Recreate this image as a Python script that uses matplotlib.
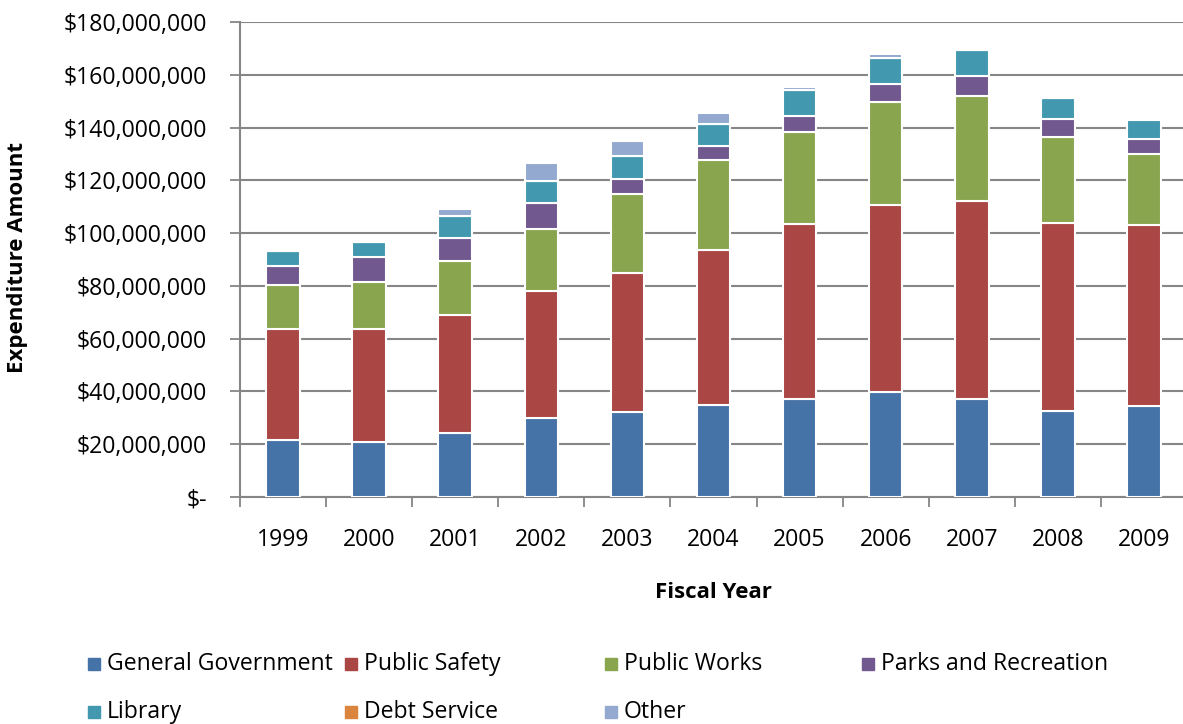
import matplotlib
matplotlib.use("Agg")
import matplotlib.pyplot as plt
import matplotlib.patheffects as pe
import numpy as np

years = ["1999", "2000", "2001", "2002", "2003", "2004", "2005", "2006", "2007", "2008", "2009"]
general_government = [21.6, 20.8, 24.3, 29.9, 32.3, 34.9, 37.1, 39.7, 37.0, 32.6, 34.6]
public_safety = [41.9, 43.0, 44.7, 48.0, 52.5, 58.6, 66.5, 70.8, 75.3, 71.2, 68.5]
public_works = [16.7, 17.8, 20.4, 23.8, 30.1, 34.1, 34.8, 39.3, 39.7, 32.7, 26.8]
parks_recreation = [7.5, 9.3, 8.9, 9.7, 5.7, 5.5, 6.0, 6.6, 7.5, 6.8, 5.8]
library = [5.4, 5.6, 8.2, 8.5, 8.7, 8.4, 9.8, 10.1, 9.9, 8.0, 7.2]
debt_service = [0, 0, 0, 0, 0, 0, 0, 0, 0, 0, 0.4]
other = [0, 0, 2.8, 6.7, 5.5, 3.9, 1.0, 1.5, 0, 0.5, 0]

series_names = ["General Government", "Public Safety", "Public Works", "Parks and Recreation",
                "Library", "Debt Service", "Other"]
series_values = [general_government, public_safety, public_works, parks_recreation,
                 library, debt_service, other]
colors = ["#4572A7", "#AA4643", "#89A54E", "#71588F", "#4198AF", "#DB843D", "#93A9CF"]

plt.rcParams['font.family'] = ['Open Sans', 'DejaVu Sans']
FS = 16.6
FSB = 16

fig = plt.figure(figsize=(11.83, 7.24), dpi=100)
W, H = 1183, 724
left, right, top, bottom = 240, 1187, 22, 497
ax = fig.add_axes([left / W, 1 - bottom / H, (right - left) / W, (bottom - top) / H])

x = np.arange(len(years))
base = np.zeros(len(years))
for name, vals, c in zip(series_names, series_values, colors):
    v = np.array(vals) * 1e6
    bars = ax.bar(x, v, bottom=base, width=0.39, color=c, edgecolor="white",
                  linewidth=1.5, zorder=3, label=name)
    for b in bars:
        b.set_path_effects([pe.SimplePatchShadow(offset=(0, 0), shadow_rgbFace='#bbbbbb', alpha=0.5),
                            pe.Normal()])
    base += v

ax.set_xlim(-0.5, len(years) - 0.5)
ax.set_ylim(0, 180e6)
yt = np.arange(0, 180e6 + 1, 20e6)
ax.set_yticks(yt)
ax.set_yticklabels(["$-"] + ["${:,.0f}".format(t) for t in yt[1:]], fontsize=FS)
ax.set_xticks(x)
ax.set_xticklabels(years, fontsize=FS)
ax.set_xticks(np.arange(-0.5, len(years), 1.0), minor=True)
ax.tick_params(axis='x', which='major', length=0, pad=22)
ax.tick_params(axis='x', which='minor', length=7, width=1.3, color='#868686')
ax.tick_params(axis='y', length=7, width=1.3, color='#868686', pad=17)
ax.yaxis.grid(True, color='#868686', linewidth=1.5, zorder=0)
ax.set_axisbelow(True)
for s in ['top', 'right']:
    ax.spines[s].set_visible(False)
for s in ['left', 'bottom']:
    ax.spines[s].set_color('#868686')
    ax.spines[s].set_linewidth(1.5)

fig.text(713 / W, 1 - 592 / H, "Fiscal Year", ha='center', va='center', fontsize=FSB, fontweight='bold')
fig.text(18 / W, 1 - 258 / H, "Expenditure Amount", ha='center', va='center', rotation=90,
         fontsize=FSB, fontweight='bold')

# legend (two rows, four columns)
leg_cols = [88, 345, 605, 862]
leg_rows = [664, 712]
for i, (name, c) in enumerate(zip(series_names, colors)):
    r, col = divmod(i, 4)
    lx, ly = leg_cols[col], leg_rows[r]
    fig.patches.append(plt.Rectangle(((lx) / W, 1 - (ly + 6) / H), 12 / W, 12 / H,
                                     transform=fig.transFigure, color=c, figure=fig))
    fig.text((lx + 19) / W, 1 - ly / H, name, ha='left', va='center', fontsize=FS)

fig.savefig("out.png", dpi=100)
